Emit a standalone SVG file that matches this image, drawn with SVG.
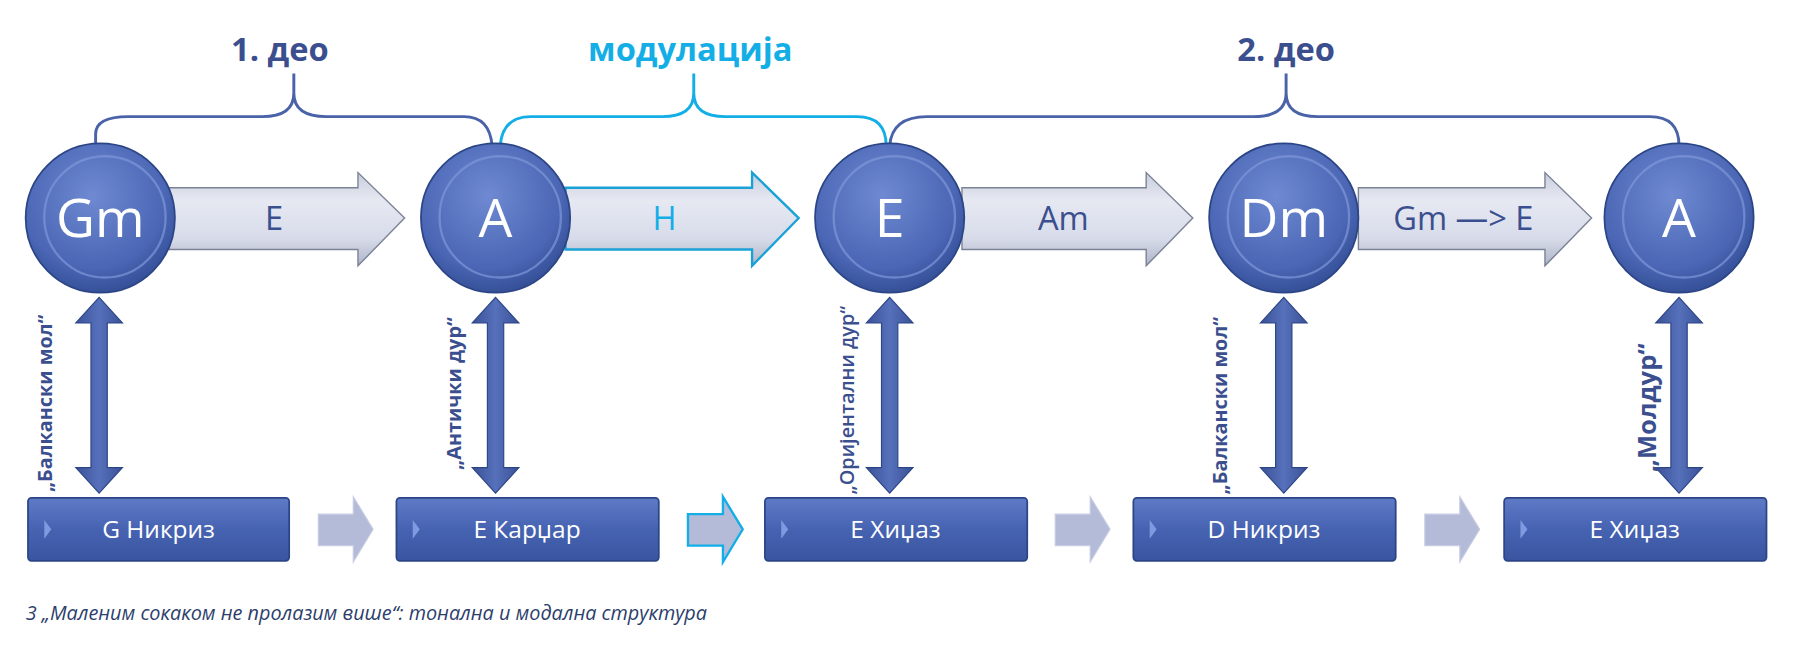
<svg xmlns="http://www.w3.org/2000/svg" width="1819" height="649" viewBox="0 0 1819 649">
<defs>
<radialGradient id="cg" cx="0.45" cy="0.35" r="0.7">
<stop offset="0" stop-color="#6f8ad2"/><stop offset="0.7" stop-color="#4a66b4"/><stop offset="1" stop-color="#2f4a90"/>
</radialGradient>
<linearGradient id="ag" x1="0" y1="0" x2="0" y2="1">
<stop offset="0" stop-color="#c9cedd"/><stop offset="0.3" stop-color="#e6e9f2"/><stop offset="0.7" stop-color="#d8dcea"/><stop offset="1" stop-color="#aeb4c8"/>
</linearGradient>
<linearGradient id="bg" x1="0" y1="0" x2="0" y2="1">
<stop offset="0" stop-color="#5f7ac6"/><stop offset="0.5" stop-color="#4663b2"/><stop offset="1" stop-color="#3a55a0"/>
</linearGradient>
<linearGradient id="vg" x1="0" y1="0" x2="1" y2="0">
<stop offset="0" stop-color="#3a5296"/><stop offset="0.5" stop-color="#5670bb"/><stop offset="1" stop-color="#3a5296"/>
</linearGradient>
<style>
.node circle.o{fill:url(#cg);stroke:#2c4586;stroke-width:1.5}
.node circle.i{fill:none;stroke:#7f97d8;stroke-width:2;opacity:0.7}
.nt{font-family:"Open Sans","Liberation Sans",sans-serif;fill:#fff;font-size:46px;text-anchor:middle}
.big{fill:url(#ag);stroke:#7b8296;stroke-width:1.2}
.bigc{fill:url(#ag);stroke:#1aa2d6;stroke-width:2}
.al{font-family:"Open Sans","Liberation Sans",sans-serif;font-size:28px;text-anchor:middle;fill:#3b4f8f}
.br{fill:none;stroke:#4a62a8;stroke-width:2.5}
.brc{fill:none;stroke:#14aee6;stroke-width:2.5}
.ht{font-family:"Open Sans","Liberation Sans",sans-serif;font-weight:bold;font-size:28px;text-anchor:middle;fill:#3b4f8f}
.box{fill:url(#bg);stroke:#2c4586;stroke-width:1.5}
.bt{font-family:"Open Sans","Liberation Sans",sans-serif;font-size:21px;fill:#fff;text-anchor:middle}
.sa{fill:#b3bbd8;stroke:#c6cce2;stroke-width:1}
.sac{fill:#b3bbd8;stroke:#14aee6;stroke-width:2}
.va{fill:url(#vg);stroke:#2c4586;stroke-width:1}
.rl{font-family:"Open Sans","Liberation Sans",sans-serif;font-weight:bold;font-size:17px;fill:#3b4f8f}
.cap{font-family:"Open Sans","Liberation Sans",sans-serif;font-style:italic;font-size:17px;fill:#2c3e6c}
.tri{fill:#7f9ae0}
</style>
</defs>
<g transform="scale(1.166)">
<g id="connectors">
<path class="big" d="M145 161 H307 V148 L347 187 L307 228 V214 H145 Z"/>
<path class="bigc" d="M485 161 H645 V148 L685 187 L645 228 V214 H485 Z"/>
<path class="big" d="M825 161 H983 V148 L1023 187 L983 228 V214 H825 Z"/>
<path class="big" d="M1165 161 H1325 V148 L1365 187 L1325 228 V214 H1165 Z"/>
<path class="va" d="M85 255 L105 277 H92 V401 H105 L85 423 L65 401 H78 V277 H65 Z"/>
<path class="va" d="M425 255 L445 277 H432 V401 H445 L425 423 L405 401 H418 V277 H405 Z"/>
<path class="va" d="M763 255 L783 277 H770 V401 H783 L763 423 L743 401 H756 V277 H743 Z"/>
<path class="va" d="M1101 255 L1121 277 H1108 V401 H1121 L1101 423 L1081 401 H1094 V277 H1081 Z"/>
<path class="va" d="M1440 255 L1460 277 H1447 V401 H1460 L1440 423 L1420 401 H1433 V277 H1420 Z"/>
<path class="sa" d="M273 441 H303 V426 L320 454 L303 482 V468 H273 Z"/>
<path class="sac" d="M590 441 H620 V426 L637 454 L620 482 V468 H590 Z"/>
<path class="sa" d="M905 441 H935 V426 L952 454 L935 482 V468 H905 Z"/>
<path class="sa" d="M1222 441 H1252 V426 L1269 454 L1252 482 V468 H1222 Z"/>
<path class="br" d="M82 125 V115 Q82 100 110 100 H225 Q252 100 252 80 V63 M252 80 Q252 100 280 100 H398 Q420 100 422 125"/>
<path class="brc" d="M429 125 Q431 100 455 100 H568 Q595 100 595 80 V63 M595 80 Q595 100 622 100 H735 Q760 100 760 125"/>
<path class="br" d="M763 125 Q765 100 795 100 H1075 Q1103 100 1103 80 V63 M1103 80 Q1103 100 1130 100 H1415 Q1440 100 1440 125"/>
</g>
<text class="ht" x="240" y="52">1. део</text>
<text class="ht" x="592" y="52" style="fill:#14aee6">модулација</text>
<text class="ht" x="1103" y="52">2. део</text>
<text class="al" x="235" y="197">E</text>
<text class="al" x="570" y="197" style="fill:#14aee6">H</text>
<text class="al" x="912" y="197">Am</text>
<text class="al" x="1255" y="197">Gm —&gt; E</text>
<g id="n1" class="node"><circle class="o" cx="86" cy="187" r="64"/><circle class="i" cx="90" cy="186" r="52"/><text class="nt" x="86" y="203">Gm</text></g>
<g id="n2" class="node"><circle class="o" cx="425" cy="187" r="64"/><circle class="i" cx="429" cy="186" r="52"/><text class="nt" x="425" y="203">A</text></g>
<g id="n3" class="node"><circle class="o" cx="763" cy="187" r="64"/><circle class="i" cx="767" cy="186" r="52"/><text class="nt" x="763" y="203">E</text></g>
<g id="n4" class="node"><circle class="o" cx="1101" cy="187" r="64"/><circle class="i" cx="1105" cy="186" r="52"/><text class="nt" x="1101" y="203">Dm</text></g>
<g id="n5" class="node"><circle class="o" cx="1440" cy="187" r="64"/><circle class="i" cx="1444" cy="186" r="52"/><text class="nt" x="1440" y="203">A</text></g>
<g id="b1"><rect class="box" x="24" y="427" width="224" height="54" rx="3"/><path class="tri" d="M38 446 L44 454 L38 462 Z"/><text class="bt" x="136" y="461">G Никриз</text></g>
<g id="b2"><rect class="box" x="340" y="427" width="225" height="54" rx="3"/><path class="tri" d="M354 446 L360 454 L354 462 Z"/><text class="bt" x="452" y="461">E Карџар</text></g>
<g id="b3"><rect class="box" x="656" y="427" width="225" height="54" rx="3"/><path class="tri" d="M670 446 L676 454 L670 462 Z"/><text class="bt" x="768" y="461">E Хиџаз</text></g>
<g id="b4"><rect class="box" x="972" y="427" width="225" height="54" rx="3"/><path class="tri" d="M986 446 L992 454 L986 462 Z"/><text class="bt" x="1084" y="461">D Никриз</text></g>
<g id="b5"><rect class="box" x="1290" y="427" width="225" height="54" rx="3"/><path class="tri" d="M1304 446 L1310 454 L1304 462 Z"/><text class="bt" x="1402" y="461">E Хиџаз</text></g>
<text class="rl" transform="translate(45 422) rotate(-90)">„Балкански мол“</text>
<text class="rl" transform="translate(395 403) rotate(-90)">„Антички дур“</text>
<text class="rl" transform="translate(732 424) rotate(-90)" style="font-weight:600">„Оријентални дур“</text>
<text class="rl" transform="translate(1052 424) rotate(-90)">„Балкански мол“</text>
<text class="rl" transform="translate(1420 405) rotate(-90)" style="font-size:22px">„Молдур“</text>
<text class="cap" x="22" y="532">3 „Маленим сокаком не пролазим више“: тонална и модална структура</text>
</g>
</svg>
